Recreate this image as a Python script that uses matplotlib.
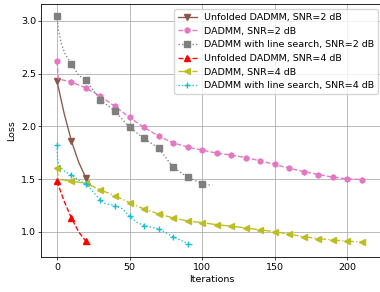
import numpy as np
import matplotlib
matplotlib.use('Agg')
import matplotlib.pyplot as plt

# Unfolded DADMM, SNR=2 dB
unf2_x = [0, 5, 10, 15, 20, 23]
unf2_y = [2.43, 2.12, 1.86, 1.66, 1.51, 1.45]

# DADMM, SNR=2 dB
dad2_x = [0, 1, 10, 20, 30, 40, 50, 60, 70, 80, 90, 100,
          110, 120, 130, 140, 150, 160, 170, 180, 190, 200, 210]
dad2_y = [2.62, 2.45, 2.42, 2.364, 2.285, 2.19, 2.085, 1.99, 1.908, 1.845, 1.804, 1.775,
          1.747, 1.728, 1.705, 1.674, 1.639, 1.604, 1.572, 1.544, 1.519, 1.503, 1.496]

# DADMM with line search, SNR=2 dB
ls2_x = [0, 1, 3, 5.5, 10, 15, 20, 30, 40, 50, 60, 70, 80, 90, 100, 107]
ls2_y = [3.05, 2.915, 2.785, 2.69, 2.59, 2.485, 2.436, 2.25, 2.145, 1.99,
         1.886, 1.794, 1.614, 1.519, 1.458, 1.44]

# Unfolded DADMM, SNR=4 dB
unf4_x = [0, 5, 10, 15, 20, 23]
unf4_y = [1.48, 1.29, 1.13, 1.00, 0.91, 0.875]

# DADMM, SNR=4 dB
dad4_x = [0, 1, 10, 20, 30, 40, 50, 60, 70, 80, 90, 100,
          110, 120, 130, 140, 150, 160, 170, 180, 190, 200, 210]
dad4_y = [1.61, 1.50, 1.48, 1.462, 1.398, 1.342, 1.278, 1.218, 1.171, 1.133, 1.104, 1.088,
          1.069, 1.054, 1.038, 1.019, 1.003, 0.978, 0.955, 0.937, 0.924, 0.912, 0.905]

# DADMM with line search, SNR=4 dB
ls4_x = [0, 0.5, 2, 5.5, 10, 15, 20, 23, 30, 33, 40, 45, 50, 55, 60, 70, 80, 90, 94]
ls4_y = [1.825, 1.67, 1.62, 1.57, 1.54, 1.49, 1.45, 1.41, 1.30, 1.27, 1.25, 1.22,
         1.15, 1.09, 1.06, 1.03, 0.955, 0.89, 0.875]


def every10(xs):
    return [i for i, v in enumerate(xs) if v % 10 == 0]


plt.rcParams['font.size'] = 6.8

fig = plt.figure(figsize=(3.8, 2.92), dpi=100)
ax = fig.add_axes([0.109, 0.119, 1.008 - 0.109, 0.985 - 0.119])

lw = 0.95
ms = 3.8
series = [
    (unf2_x, unf2_y, '#8c564b', '-', 'v', 'Unfolded DADMM, SNR=2 dB'),
    (dad2_x, dad2_y, '#e377c2', '--', 'h', 'DADMM, SNR=2 dB'),
    (ls2_x, ls2_y, '#7f7f7f', ':', 's', 'DADMM with line search, SNR=2 dB'),
    (unf4_x, unf4_y, 'red', '--', '^', 'Unfolded DADMM, SNR=4 dB'),
    (dad4_x, dad4_y, '#bcbd22', '-.', '<', 'DADMM, SNR=4 dB'),
    (ls4_x, ls4_y, '#17becf', ':', '+', 'DADMM with line search, SNR=4 dB'),
]
for xs, ys, c, ls, mk, lab in series:
    ax.plot(xs, ys, color=c, linestyle=ls, marker=mk, markevery=every10(xs),
            linewidth=lw, markersize=ms, label=lab)

ax.set_xlim(-10.7, 224.7)
ax.set_ylim(0.76, 3.156)
ax.set_xticks([0, 50, 100, 150, 200])
ax.set_yticks([1.0, 1.5, 2.0, 2.5, 3.0])
ax.grid(True, color='#b0b0b0', linewidth=0.6)
ax.set_xlabel('Iterations', labelpad=2.5)
ax.set_ylabel('Loss', labelpad=3)
ax.tick_params(width=0.5, length=2.2, pad=1.8)
for sp in ax.spines.values():
    sp.set_linewidth(0.6)

ax.legend(loc='upper right', fontsize=6.8, handlelength=2.0, borderaxespad=0.5,
          labelspacing=0.5)

fig.savefig('out.png', dpi=100)
